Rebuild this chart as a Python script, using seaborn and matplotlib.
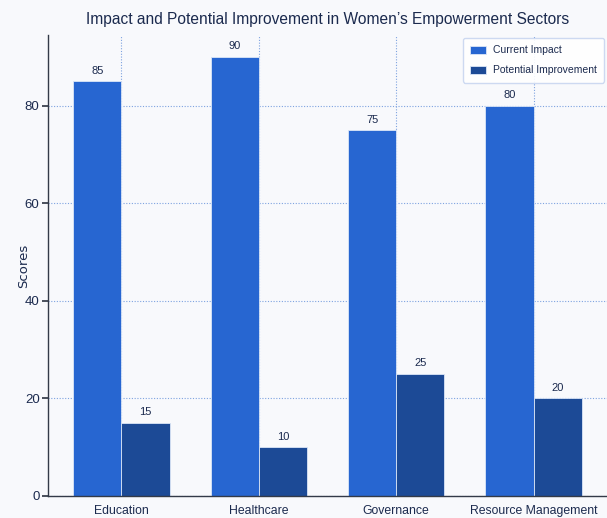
import matplotlib
matplotlib.use("Agg")
import matplotlib.pyplot as plt
import seaborn as sns
import pandas as pd

categories = ["Education", "Healthcare", "Governance", "Resource Management"]
current_impact = [85, 90, 75, 80]
potential_improvement = [15, 10, 25, 20]
series_names = ["Current Impact", "Potential Improvement"]
yticks = [0, 20, 40, 60, 80]

df = pd.DataFrame({
    "Sector": categories * 2,
    "Score": current_impact + potential_improvement,
    "Series": [series_names[0]] * 4 + [series_names[1]] * 4,
})

sns.set_theme(style="white")
plt.rcParams["font.family"] = ["Liberation Sans", "DejaVu Sans"]

text_color = "#1b2a4e"
bg = "#f8f9fc"

fig = plt.figure(figsize=(6.07, 5.18), dpi=100, facecolor=bg)
ax = fig.add_axes([0.079, 0.0425, 0.921, 0.8900])
ax.set_facecolor(bg)

palette = {"Current Impact": "#2766d1", "Potential Improvement": "#1c4a96"}
sns.barplot(data=df, x="Sector", y="Score", hue="Series", palette=palette,
            width=0.7, gap=0, saturation=1, ax=ax, edgecolor="#dbe6f7", linewidth=0.6)

for cont in ax.containers:
    ax.bar_label(cont, padding=4, fontsize=8, color=text_color)

ax.set_xlim(-0.535, 3.535)
ax.set_ylim(0, 94.5)
ax.set_yticks(yticks)
ax.grid(True, color="#7ea3e0", linestyle=(0, (1, 1.5)), linewidth=0.8)
ax.set_axisbelow(True)

for s in ["top", "right"]:
    ax.spines[s].set_visible(False)
ax.spines["left"].set_color("#333a48")
ax.spines["bottom"].set_color("#333a48")
ax.spines["left"].set_linewidth(1.0)
ax.spines["bottom"].set_linewidth(1.0)
ax.tick_params(axis="y", left=True, length=4, color="#333a48", labelsize=9.5, labelcolor=text_color, pad=2)
ax.tick_params(axis="x", bottom=False, labelsize=8.8, labelcolor=text_color, pad=0.5)

ax.set_xlabel("")
ax.set_ylabel("Scores", fontsize=9.5, color=text_color, family=["DejaVu Sans"])
ax.yaxis.set_label_coords(-0.032, 0.5)
ax.set_title("Impact and Potential Improvement in Women\u2019s Empowerment Sectors",
             fontsize=11.2, color=text_color, pad=8)

leg = ax.legend(loc="upper right", fontsize=7.5, frameon=True, fancybox=True,
                edgecolor="#c8d6f0", facecolor="white", framealpha=0.9,
                handlelength=1.6, handleheight=0.8, handletextpad=0.6,
                labelspacing=0.95, borderpad=0.7, borderaxespad=0.3)
for t in leg.get_texts():
    t.set_color(text_color)

fig.savefig("out.png", dpi=100, facecolor=bg)
